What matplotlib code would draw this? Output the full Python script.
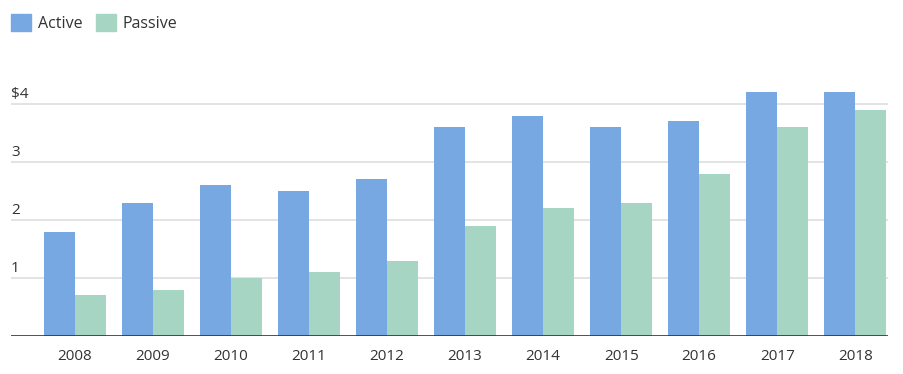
import numpy as np
import matplotlib
matplotlib.use("Agg")
from matplotlib import pyplot as plt
from matplotlib.patches import Patch
import matplotlib.transforms as mtransforms

years = ["2008", "2009", "2010", "2011", "2012", "2013", "2014", "2015", "2016", "2017", "2018"]
active = [1.8, 2.3, 2.6, 2.5, 2.7, 3.6, 3.8, 3.6, 3.7, 4.2, 4.2]
passive = [0.7, 0.8, 1.0, 1.1, 1.3, 1.9, 2.2, 2.3, 2.8, 3.6, 3.9]
ytick_vals = [1, 2, 3, 4]
ytick_labels = ["1", "2", "3", "$4"]

c_active = "#78A8E2"
c_passive = "#A6D6C3"
txt = "#333333"

plt.rcParams['font.family'] = ['Open Sans', 'DejaVu Sans']

W, H = 904, 374
fig = plt.figure(figsize=(W / 100, H / 100), dpi=100)
ax = fig.add_axes([11 / W, (H - 336) / H, (888 - 11) / W, (336 - 80) / H])

x = np.arange(len(years))
bw = 0.4
ax.bar(x - bw / 2, active, bw, color=c_active, zorder=2)
ax.bar(x + bw / 2, passive, bw, color=c_passive, zorder=2)

ax.set_xlim(-0.82, 10.42)
ax.set_ylim(0, 256 / 58)

for v in ytick_vals:
    ax.axhline(v, color="#e3e3e3", lw=1.4, zorder=1)
ax.axhline(0, color="#333333", lw=1.2, zorder=3)

# y labels sit on top of the gridlines, left aligned
trans = mtransforms.blended_transform_factory(ax.transAxes, ax.transData)
for v, lab in zip(ytick_vals, ytick_labels):
    ax.text(0, v + 0.03, lab, transform=trans, ha="left", va="bottom", fontsize=11,
            color=txt)
ax.set_yticks([])
ax.set_xticks(x)
ax.set_xticklabels(years, fontsize=11, color=txt)
ax.tick_params(axis="x", length=0, pad=9)
for s in ax.spines.values():
    s.set_visible(False)

handles = [Patch(color=c_active, label="Active"), Patch(color=c_passive, label="Passive")]
fig.legend(handles=handles, loc="upper left", bbox_to_anchor=(11 / W, 1 - 14 / H),
           ncol=2, frameon=False, fontsize=11.5, handlelength=1.25, handleheight=1.25,
           handletextpad=0.45, columnspacing=0.8, borderpad=0, borderaxespad=0,
           labelcolor=txt)

fig.savefig("out.png", dpi=100)
